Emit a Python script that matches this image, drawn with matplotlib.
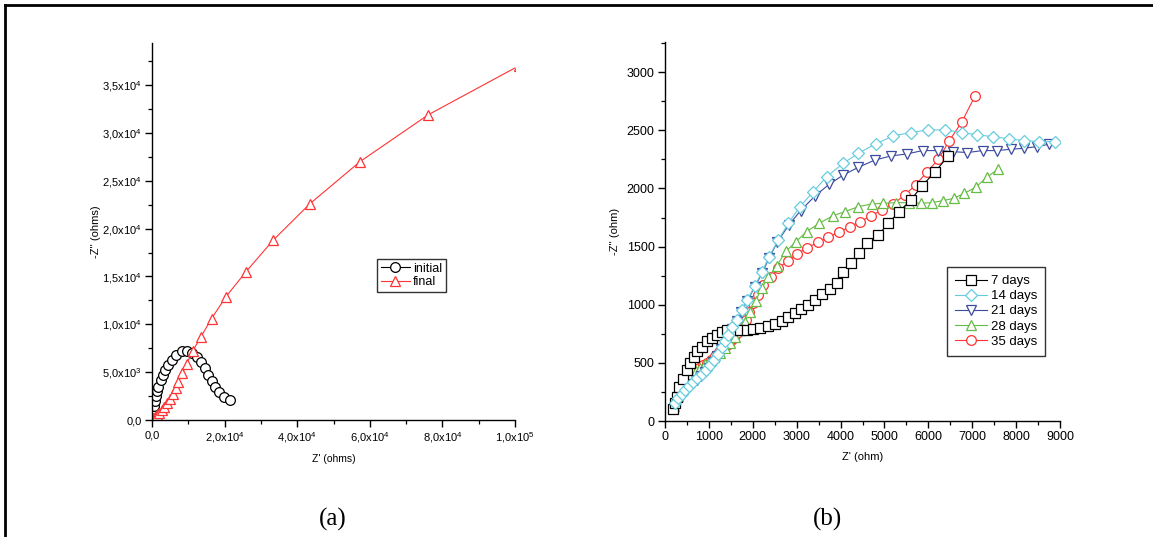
import matplotlib
matplotlib.use("Agg")
import matplotlib.pyplot as plt
from matplotlib.ticker import MultipleLocator, FixedLocator, FixedFormatter
from matplotlib.lines import Line2D

plt.rcParams["font.family"] = ["Liberation Sans", "DejaVu Sans"]
plt.rcParams["mathtext.fontset"] = "custom"
plt.rcParams["mathtext.rm"] = "Liberation Sans"
plt.rcParams["mathtext.it"] = "Liberation Sans:italic"

# ---------------- data: panel (a) ----------------
initial_x = [50, 100, 150, 250, 400, 550, 750, 1000, 1300, 1700, 2400, 2900, 3700,
             4500, 5400, 6600, 8200, 9600, 10900, 12300, 13500, 14600, 15500,
             16400, 17400, 18500, 19900, 21500]
initial_y = [50, 150, 300, 700, 1100, 1500, 1950, 2500, 3000, 3500, 4200, 4700, 5250,
             5800, 6300, 6800, 7250, 7250, 7050, 6600, 6100, 5400, 4700,
             4100, 3500, 2900, 2400, 2100]

final_x = [200, 400, 800, 1500, 2000, 2700, 3300, 4000, 5000, 5700, 6500, 7300, 8400,
           9600, 11200, 13500, 16400, 20400, 25900, 33400, 43500, 57300, 76100, 101000]
final_y = [80, 180, 350, 520, 770, 1050, 1400, 1750, 2200, 2700, 3300, 4000, 4900,
           5900, 7200, 8700, 10600, 12900, 15500, 18800, 22600, 27000, 31900, 37000]

a_xticks = [0, 20000, 40000, 60000, 80000, 100000]
a_xticklabels = ["0,0", "2,0x10$^{4}$", "4,0x10$^{4}$", "6,0x10$^{4}$",
                 "8,0x10$^{4}$", "1,0x10$^{5}$"]
a_yticks = [0, 5000, 10000, 15000, 20000, 25000, 30000, 35000]
a_yticklabels = ["0,0", "5,0x10$^{3}$", "1,0x10$^{4}$", "1,5x10$^{4}$", "2,0x10$^{4}$",
                 "2,5x10$^{4}$", "3,0x10$^{4}$", "3,5x10$^{4}$"]

# ---------------- data: panel (b) ----------------
d7_x = [190, 230, 280, 330, 400, 490, 570, 650, 740, 835, 950, 1060, 1180, 1290,
        1420, 1560, 1710, 1860, 2010, 2170, 2340, 2500, 2660, 2810, 2960, 3110,
        3260, 3410, 3570, 3750, 3910, 4060, 4230, 4430, 4610, 4860, 5090, 5330,
        5600, 5860, 6160, 6450]
d7_y = [100, 155, 210, 290, 365, 440, 495, 550, 600, 640, 685, 715, 740, 765,
        780, 783, 783, 783, 788, 797, 815, 835, 862, 895, 925, 960,
        1000, 1040, 1090, 1135, 1190, 1285, 1362, 1445, 1534, 1600, 1700, 1800,
        1900, 2025, 2145, 2280]

d14_x = [228, 304, 380, 456, 554, 646, 737, 835, 934, 1025, 1116, 1200, 1291, 1367,
         1443, 1534, 1633, 1747, 1876, 2051, 2215, 2370, 2582, 2810, 3076, 3380,
         3683, 4063, 4405, 4800, 5195, 5598, 5985, 6380, 6760, 7117, 7481, 7846,
         8180, 8529, 8880]
d14_y = [152, 195, 232, 267, 301, 338, 367, 401, 439, 482, 525, 576, 640, 691,
         740, 806, 869, 955, 1041, 1165, 1285, 1414, 1557, 1701, 1844, 1973,
         2102, 2217, 2303, 2383, 2452, 2481, 2504, 2504, 2481, 2461, 2446, 2426,
         2412, 2403, 2403]

d21_x = [200, 280, 360, 440, 530, 620, 720, 820, 920, 1010, 1100, 1190, 1280, 1360,
         1440, 1530, 1630, 1740, 1870, 2040, 2210, 2370, 2560, 2830, 3090, 3420,
         3740, 4063, 4405, 4785, 5150, 5507, 5871, 6228, 6555, 6889, 7238, 7557,
         7876, 8180, 8468, 8750]
d21_y = [110, 170, 215, 250, 285, 320, 352, 385, 420, 460, 505, 560, 620, 675,
         730, 795, 860, 940, 1030, 1150, 1270, 1400, 1540, 1690, 1810, 1936,
         2036, 2116, 2182, 2245, 2280, 2297, 2326, 2326, 2317, 2309, 2326, 2326,
         2337, 2346, 2360, 2380]

d28_x = [200, 300, 400, 500, 600, 700, 800, 900, 1000, 1120, 1253, 1367, 1481, 1595,
         1709, 1823, 1937, 2066, 2202, 2354, 2544, 2757, 2985, 3228, 3516, 3835,
         4101, 4405, 4709, 4976, 5264, 5568, 5826, 6076, 6342, 6585, 6821, 7079,
         7329, 7595]
d28_y = [130, 215, 290, 345, 395, 430, 460, 490, 515, 550, 582, 625, 668, 726,
         783, 855, 941, 1035, 1141, 1236, 1334, 1460, 1543, 1629, 1701, 1767,
         1801, 1844, 1867, 1873, 1878, 1878, 1873, 1878, 1896, 1916, 1959, 2010,
         2096, 2168]

d35_x = [190, 265, 340, 420, 495, 585, 685, 780, 875, 950, 1040, 1140, 1230, 1330,
         1410, 1490, 1572, 1648, 1747, 1846, 1922, 2013, 2126, 2240, 2415, 2582,
         2795, 3000, 3228, 3478, 3721, 3964, 4215, 4443, 4694, 4937, 5202, 5460,
         5711, 5963, 6228, 6479, 6760, 7064]
d35_y = [120, 210, 265, 310, 350, 387, 424, 453, 482, 502, 525, 555, 590, 625,
         655, 680, 710, 754, 803, 869, 941, 1012, 1084, 1170, 1242, 1313,
         1377, 1437, 1486, 1537, 1580, 1623, 1672, 1715, 1764, 1815, 1867, 1944,
         2030, 2139, 2251, 2412, 2570, 2796]

# label, x, y, colour, marker, marker size, stacking order
series_b = [
    ("7 days", d7_x, d7_y, "#000000", "s", 6.8, 5),
    ("14 days", d14_x, d14_y, "#66CCDD", "D", 6.0, 6),
    ("21 days", d21_x, d21_y, "#3A4BA0", "v", 7.6, 4),
    ("28 days", d28_x, d28_y, "#66BB44", "^", 7.6, 3),
    ("35 days", d35_x, d35_y, "#FF3333", "o", 7.0, 2),
]

# ---------------- figure layout ----------------
W, H = 1153, 537
fig = plt.figure(figsize=(W / 100, H / 100), dpi=100)
fig.patch.set_facecolor("white")


def fx(px):
    return px / W


def fy(py):
    return 1 - py / H


ax_a = fig.add_axes([fx(152), fy(420), fx(515) - fx(152), fy(43) - fy(420)])
ax_b = fig.add_axes([fx(665), fy(421), fx(1060) - fx(665), fy(42) - fy(421)])


def style_axes(ax, tick_size):
    for side in ("top", "right"):
        ax.spines[side].set_visible(False)
    for side in ("left", "bottom"):
        ax.spines[side].set_linewidth(1.0)
    ax.tick_params(which="major", direction="out", length=5, width=1.0,
                   labelsize=tick_size, pad=2.5, top=False, right=False)
    ax.tick_params(which="minor", direction="out", length=3, width=0.9,
                   top=False, right=False)


# ---------------- panel (a) ----------------
ax_a.plot(initial_x, initial_y, "-", color="black", lw=0.8, marker="o", ms=7.0,
          mfc="white", mec="black", mew=0.9, label="initial")
ax_a.plot(final_x, final_y, "-", color="#FF3333", lw=0.8, marker="^", ms=7.8,
          mfc="white", mec="#FF3333", mew=0.9, label="final")
ax_a.set_xlim(0, 100000)
ax_a.set_ylim(0, 39400)
ax_a.xaxis.set_major_locator(FixedLocator(a_xticks))
ax_a.xaxis.set_major_formatter(FixedFormatter(a_xticklabels))
ax_a.xaxis.set_minor_locator(MultipleLocator(10000))
ax_a.yaxis.set_major_locator(FixedLocator(a_yticks))
ax_a.yaxis.set_major_formatter(FixedFormatter(a_yticklabels))
ax_a.yaxis.set_minor_locator(MultipleLocator(2500))
style_axes(ax_a, 8)
ax_a.set_xlabel("Z' (ohms)", fontsize=7.5, labelpad=6)
ax_a.set_ylabel("-Z'' (ohms)", fontsize=8, labelpad=1)

leg_a = fig.legend(handles=ax_a.get_lines(), loc="upper left",
                   bbox_to_anchor=(fx(377), fy(259)), frameon=True, fancybox=False,
                   fontsize=9, handlelength=2.3, handletextpad=0.3,
                   borderpad=0.3, labelspacing=0.1, borderaxespad=0)
leg_a.get_frame().set_edgecolor("black")
leg_a.get_frame().set_linewidth(1.0)

# ---------------- panel (b) ----------------
lines_b = []
for label, xs, ys, col, mk, ms, z in series_b:
    ln, = ax_b.plot(xs, ys, "-", color=col, lw=0.8, marker=mk, ms=ms,
                    mfc="white", mec=col, mew=0.9, label=label, zorder=z)
    lines_b.append(ln)
ax_b.set_xlim(0, 9000)
ax_b.set_ylim(0, 3260)
ax_b.xaxis.set_major_locator(MultipleLocator(1000))
ax_b.xaxis.set_minor_locator(MultipleLocator(500))
ax_b.yaxis.set_major_locator(MultipleLocator(500))
ax_b.yaxis.set_minor_locator(MultipleLocator(250))
style_axes(ax_b, 9)
ax_b.set_xlabel("Z' (ohm)", fontsize=8, labelpad=6)
ax_b.set_ylabel("-Z'' (ohm)", fontsize=8, labelpad=5)

leg_b = fig.legend(handles=lines_b, loc="upper left",
                   bbox_to_anchor=(fx(947), fy(267)), frameon=True, fancybox=False,
                   fontsize=9.5, handlelength=2.4, handletextpad=0.3,
                   borderpad=0.6, labelspacing=0.22, borderaxespad=0)
leg_b.get_frame().set_edgecolor("black")
leg_b.get_frame().set_linewidth(1.0)

# ---------------- panel captions and frame ----------------
fig.text(fx(333), fy(519), "(a)", ha="center", va="center", fontsize=18,
         family=["Liberation Serif", "DejaVu Serif"])
fig.text(fx(828), fy(519), "(b)", ha="center", va="center", fontsize=18,
         family=["Liberation Serif", "DejaVu Serif"])

fig.add_artist(Line2D([fx(5), fx(1153)], [fy(5), fy(5)], color="black", lw=2.0,
                      transform=fig.transFigure))
fig.add_artist(Line2D([fx(5), fx(5)], [fy(5), fy(537)], color="black", lw=2.0,
                      transform=fig.transFigure))

fig.savefig("out.png", dpi=100)
